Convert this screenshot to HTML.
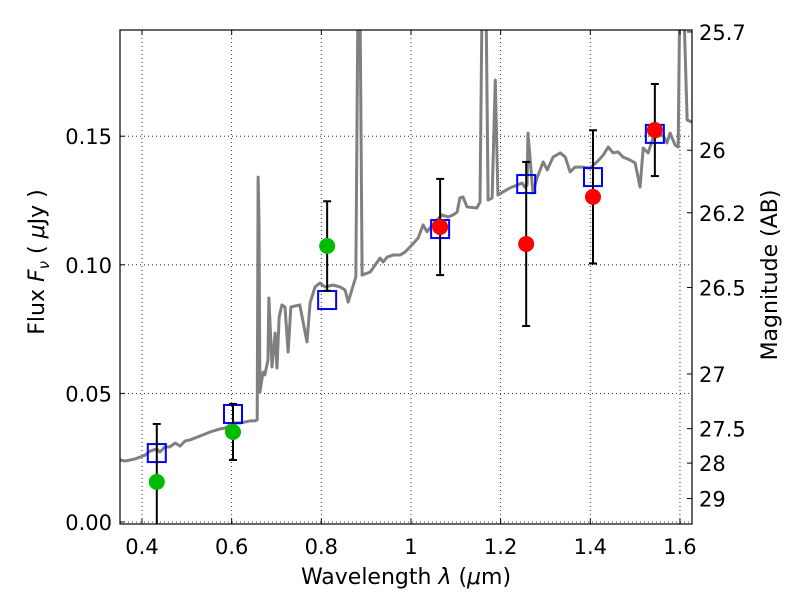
<!DOCTYPE html>
<html><head><meta charset="utf-8"><style>
body{margin:0;background:#fff}
svg text{font-family:"DejaVu Sans","Liberation Sans",sans-serif;fill:#000}
</style></head><body>
<svg id="chart" width="800" height="600" xmlns="http://www.w3.org/2000/svg"></svg>
<script>
const specWl=[0.351,0.362,0.384,0.407,0.418,0.433,0.440,0.451,0.462,0.474,0.485,0.496,0.507,0.529,0.552,0.574,0.585,0.596,0.603,0.619,0.641,0.652,0.657,0.659,0.661,0.663,0.670,0.674,0.681,0.683,0.690,0.697,0.701,0.706,0.712,0.719,0.726,0.732,0.752,0.768,0.775,0.786,0.797,0.808,0.826,0.842,0.853,0.860,0.868,0.877,0.882,0.886,0.891,0.909,0.931,0.938,0.947,0.960,0.976,0.987,1.002,1.016,1.027,1.036,1.047,1.069,1.083,1.094,1.103,1.109,1.116,1.125,1.147,1.154,1.159,1.167,1.172,1.181,1.188,1.194,1.205,1.221,1.237,1.248,1.254,1.259,1.261,1.272,1.281,1.295,1.304,1.317,1.333,1.344,1.355,1.366,1.384,1.399,1.415,1.429,1.440,1.451,1.462,1.473,1.489,1.500,1.511,1.518,1.529,1.540,1.562,1.571,1.578,1.589,1.596,1.600,1.607,1.616,1.627];
const specFlux=[0.0241,0.0237,0.0245,0.0260,0.0276,0.0284,0.0272,0.0292,0.0292,0.0307,0.0295,0.0315,0.0319,0.0334,0.0350,0.0362,0.0365,0.0377,0.0385,0.0385,0.0393,0.0393,0.0397,0.1341,0.1174,0.0505,0.0583,0.0572,0.0630,0.0871,0.0603,0.0735,0.0599,0.0797,0.0844,0.0836,0.0661,0.0836,0.0844,0.0700,0.0852,0.0914,0.0929,0.0914,0.0921,0.0914,0.0902,0.0855,0.0902,0.0953,0.21,0.21,0.0960,0.0972,0.1026,0.1011,0.1030,0.1038,0.1038,0.1050,0.1077,0.1104,0.1155,0.1128,0.1155,0.1194,0.1186,0.1194,0.1205,0.1260,0.1264,0.1225,0.1221,0.1244,0.21,0.21,0.1252,0.1260,0.1718,0.1271,0.1283,0.1299,0.1310,0.1318,0.1302,0.1310,0.1512,0.1279,0.1337,0.1400,0.1369,0.1419,0.1435,0.1419,0.1361,0.1380,0.1380,0.1376,0.1400,0.1427,0.1458,0.1435,0.1439,0.1419,0.1407,0.1396,0.1302,0.1454,0.1435,0.1493,0.1505,0.1474,0.1512,0.1466,0.1458,0.21,0.21,0.1563,0.1555];
const bandWl=[0.433,0.603,0.813,1.065,1.257,1.406,1.544];
const modelFlux=[0.0268,0.0420,0.0863,0.1139,0.1314,0.1341,0.1509];
const obsFlux=[0.0156,0.0350,0.1073,0.1147,0.1081,0.1264,0.1524];
const obsErr=[0.0225,0.0109,0.0174,0.0187,0.0319,0.0259,0.0179];
const obsColor=['#00bb00','#00bb00','#00bb00','#ff0000','#ff0000','#ff0000','#ff0000'];
const xTicks=[0.4,0.6,0.8,1.0,1.2,1.4,1.6];
const xTickLabels=['0.4','0.6','0.8','1','1.2','1.4','1.6'];
const yTicks=[0,0.05,0.10,0.15];
const yTickLabels=['0.00','0.05','0.10','0.15'];
const magTicks=[25.7,26,26.2,26.5,27,27.5,28,29];
const magTickLabels=['25.7','26','26.2','26.5','27','27.5','28','29'];

const L=120,R=692,T=30,B=524;
const X=v=>142+(v-0.4)*448.3;
const Y=v=>522-v*2572;
const NS='http://www.w3.org/2000/svg';
const svg=document.getElementById('chart');
function mk(t,a,p){const e=document.createElementNS(NS,t);for(const k in a)e.setAttribute(k,a[k]);(p||svg).appendChild(e);return e;}

const defs=mk('defs',{});
const cp=mk('clipPath',{id:'clip'},defs);
mk('rect',{x:L,y:T,width:R-L,height:B-T},cp);

const grid=mk('g',{});


xTicks.forEach(v=>{mk('line',{x1:X(v),x2:X(v),y1:T,y2:B,stroke:'#000','stroke-width':0.8,'stroke-dasharray':'1,3'},grid);});
yTicks.forEach(v=>{mk('line',{x1:L,x2:R,y1:Y(v),y2:Y(v),stroke:'#000','stroke-width':0.8,'stroke-dasharray':'1,3'},grid);});

const plot=mk('g',{'clip-path':'url(#clip)'});
const sp=mk('polyline',{points:specWl.map((w,i)=>X(w)+','+Y(specFlux[i])).join(' '),fill:'none',stroke:'#808080','stroke-width':3,'stroke-linejoin':'round'},plot);



bandWl.forEach((w,i)=>{
  const r=mk('rect',{x:X(w)-9,y:Y(modelFlux[i])-9,width:18,height:18,fill:'none',stroke:'#0000ff','stroke-width':2},plot);
  
  
});
bandWl.forEach((w,i)=>{
  const g=mk('g',{stroke:'#000','stroke-width':2},plot);
  
  
  const x=X(w),y1=Y(obsFlux[i]+obsErr[i]),y2=Y(obsFlux[i]-obsErr[i]);
  mk('line',{x1:x,x2:x,y1:y1,y2:y2},g);
  mk('line',{x1:x-4,x2:x+4,y1:y1,y2:y1},g);
  mk('line',{x1:x-4,x2:x+4,y1:y2,y2:y2},g);
});
bandWl.forEach((w,i)=>{
  const c=mk('circle',{cx:X(w),cy:Y(obsFlux[i]),r:8,fill:obsColor[i]},plot);
  
  
});

const frame=mk('rect',{x:L,y:T,width:R-L,height:B-T,fill:'none',stroke:'#000','stroke-width':1.2});



const xa=mk('g',{});


xTicks.forEach((v,i)=>{
  mk('line',{x1:X(v),x2:X(v),y1:B,y2:B-5,stroke:'#000'},xa);
  mk('line',{x1:X(v),x2:X(v),y1:T,y2:T+5,stroke:'#000'},xa);
  const t=mk('text',{x:X(v),y:554,'text-anchor':'middle','font-size':21},xa);t.textContent=xTickLabels[i];
});
const ya=mk('g',{});


yTicks.forEach((v,i)=>{
  mk('line',{x1:L,x2:L+5,y1:Y(v),y2:Y(v),stroke:'#000'},ya);
  const t=mk('text',{x:112,y:Y(v)+8,'text-anchor':'end','font-size':21},ya);t.textContent=yTickLabels[i];
});
const ra=mk('g',{});


magTicks.forEach((m,i)=>{
  const f=Math.pow(10,(23.9-m)/2.5);const y=Y(f);
  mk('line',{x1:R,x2:R-5,y1:y,y2:y,stroke:'#000'},ra);
  const t=mk('text',{x:699,y:y+8,'font-size':21},ra);t.textContent=magTickLabels[i];
});

const xl=mk('text',{x:406,y:584,'text-anchor':'middle','font-size':22});


xl.innerHTML='Wavelength  <tspan font-style="italic">λ</tspan> (<tspan font-style="italic">μ</tspan>m)';
const yl=mk('text',{x:0,y:0,'text-anchor':'middle','font-size':22,transform:'translate(44,262) rotate(-90)'});


yl.innerHTML='Flux  <tspan font-style="italic">F</tspan><tspan font-style="italic" font-size="15" dy="5">ν</tspan><tspan dy="-5">  ( </tspan><tspan font-style="italic">μ</tspan>Jy )';
const rl=mk('text',{x:0,y:0,'text-anchor':'middle','font-size':22,transform:'translate(777,275) rotate(-90)'});


rl.textContent='Magnitude (AB)';
</script>
</body></html>
